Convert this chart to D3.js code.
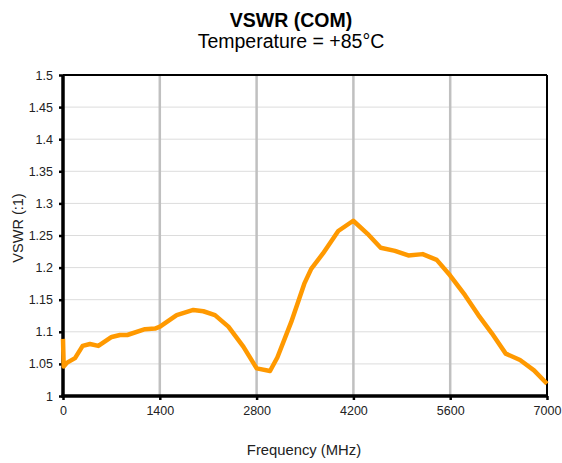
<!DOCTYPE html>
<html>
<head>
<meta charset="utf-8">
<script src="https://cdn.jsdelivr.net/npm/d3@7"></script>
<style>
  html, body { margin: 0; padding: 0; background: #fff; }
  svg { display: block; font-family: "Liberation Sans", Arial, Helvetica, sans-serif; }
</style>
</head>
<body>
<svg id="chart" width="562" height="463"></svg>
<script>
// ---- data ----
const title = "VSWR (COM)";
const subtitle = "Temperature = +85°C";
const xLabel = "Frequency (MHz)";
const yLabel = "VSWR (:1)";
const xTicks = [0, 1400, 2800, 4200, 5600, 7000];
const yTicks = [1, 1.05, 1.1, 1.15, 1.2, 1.25, 1.3, 1.35, 1.4, 1.45, 1.5];
const freq = [0, 10, 60, 174, 284, 390, 511, 704, 824, 930, 1186, 1331, 1403, 1644, 1885, 2030, 2198, 2392, 2608, 2801, 2994, 3100, 3300, 3490, 3590, 3760, 3981, 4198, 4401, 4594, 4801, 4994, 5202, 5405, 5597, 5814, 6007, 6200, 6403, 6610, 6812, 7000];
const vswr = [1.089, 1.046, 1.052, 1.059, 1.078, 1.081, 1.078, 1.092, 1.095, 1.095, 1.104, 1.105, 1.108, 1.126, 1.134, 1.132, 1.126, 1.108, 1.077, 1.043, 1.039, 1.060, 1.115, 1.175, 1.198, 1.222, 1.257, 1.273, 1.253, 1.231, 1.226, 1.219, 1.221, 1.212, 1.188, 1.157, 1.126, 1.098, 1.066, 1.056, 1.040, 1.019];

// ---- layout ----
const L = 63, R = 547, T = 75, B = 396;
const svg = d3.select("#chart");
const x = d3.scaleLinear().domain([0, 7000]).range([L, R]);
const y = d3.scaleLinear().domain([1, 1.5]).range([B, T]);

// horizontal grid
svg.append("g").selectAll("line").data(yTicks.slice(1, -1)).join("line")
  .attr("x1", L).attr("x2", R)
  .attr("y1", d => y(d)).attr("y2", d => y(d))
  .attr("stroke", "#dcdcdc").attr("stroke-width", 1);
// vertical grid
svg.append("g").selectAll("line").data(xTicks.slice(1, -1)).join("line")
  .attr("x1", d => x(d)).attr("x2", d => x(d))
  .attr("y1", T).attr("y2", B)
  .attr("stroke", "#c0c0c0").attr("stroke-width", 2.5);

// frame
svg.append("line").attr("x1", L).attr("x2", R).attr("y1", T).attr("y2", T).attr("stroke", "#000").attr("stroke-width", 2);
svg.append("line").attr("x1", R).attr("x2", R).attr("y1", T).attr("y2", B).attr("stroke", "#000").attr("stroke-width", 2);

// axes
const yAxis = d3.axisLeft(y).tickValues(yTicks).tickFormat(d => d3.format("")(+d.toFixed(2))).tickSize(4).tickPadding(6);
const gy = svg.append("g").attr("transform", `translate(${L},0)`).call(yAxis);
const xAxis = d3.axisBottom(x).tickValues(xTicks).tickFormat(d3.format("d")).tickSize(4).tickPadding(6);
const gx = svg.append("g").attr("transform", `translate(0,${B})`).call(xAxis);
[gy, gx].forEach(g => {
  g.select(".domain").attr("stroke", "#000").attr("stroke-width", 3.5);
  g.selectAll(".tick line").attr("stroke", "#000").attr("stroke-width", 2.5);
  g.selectAll(".tick text").attr("fill", "#222").style("font-size", "12.5px")
    .style("font-family", '"Liberation Sans", Arial, sans-serif');
});
gy.select(".domain").attr("d", `M0,${T}V${B + 1.5}`);
gx.select(".domain").attr("d", `M${L - 1.5},0H${R + 1}`);

// data line (drawn over the axes, as in the reference)
const line = d3.line().x((d, i) => x(freq[i])).y(d => y(d));
svg.append("path").datum(vswr)
  .attr("d", line)
  .attr("fill", "none")
  .attr("stroke", "#FF9900")
  .attr("stroke-width", 4.5)
  .attr("stroke-linejoin", "round");

// titles
svg.append("text").attr("x", 291).attr("y", 27).attr("text-anchor", "middle")
  .style("font-size", "19.5px").style("font-weight", "bold").attr("fill", "#000").text(title);
svg.append("text").attr("x", 291).attr("y", 48).attr("text-anchor", "middle")
  .style("font-size", "19.5px").attr("fill", "#000").text(subtitle);
svg.append("text").attr("x", 304).attr("y", 455).attr("text-anchor", "middle")
  .style("font-size", "14.8px").attr("fill", "#222").text(xLabel);
svg.append("text").attr("transform", "translate(23,228) rotate(-90)").attr("text-anchor", "middle")
  .style("font-size", "14.5px").attr("fill", "#222").text(yLabel);
</script>
</body>
</html>
